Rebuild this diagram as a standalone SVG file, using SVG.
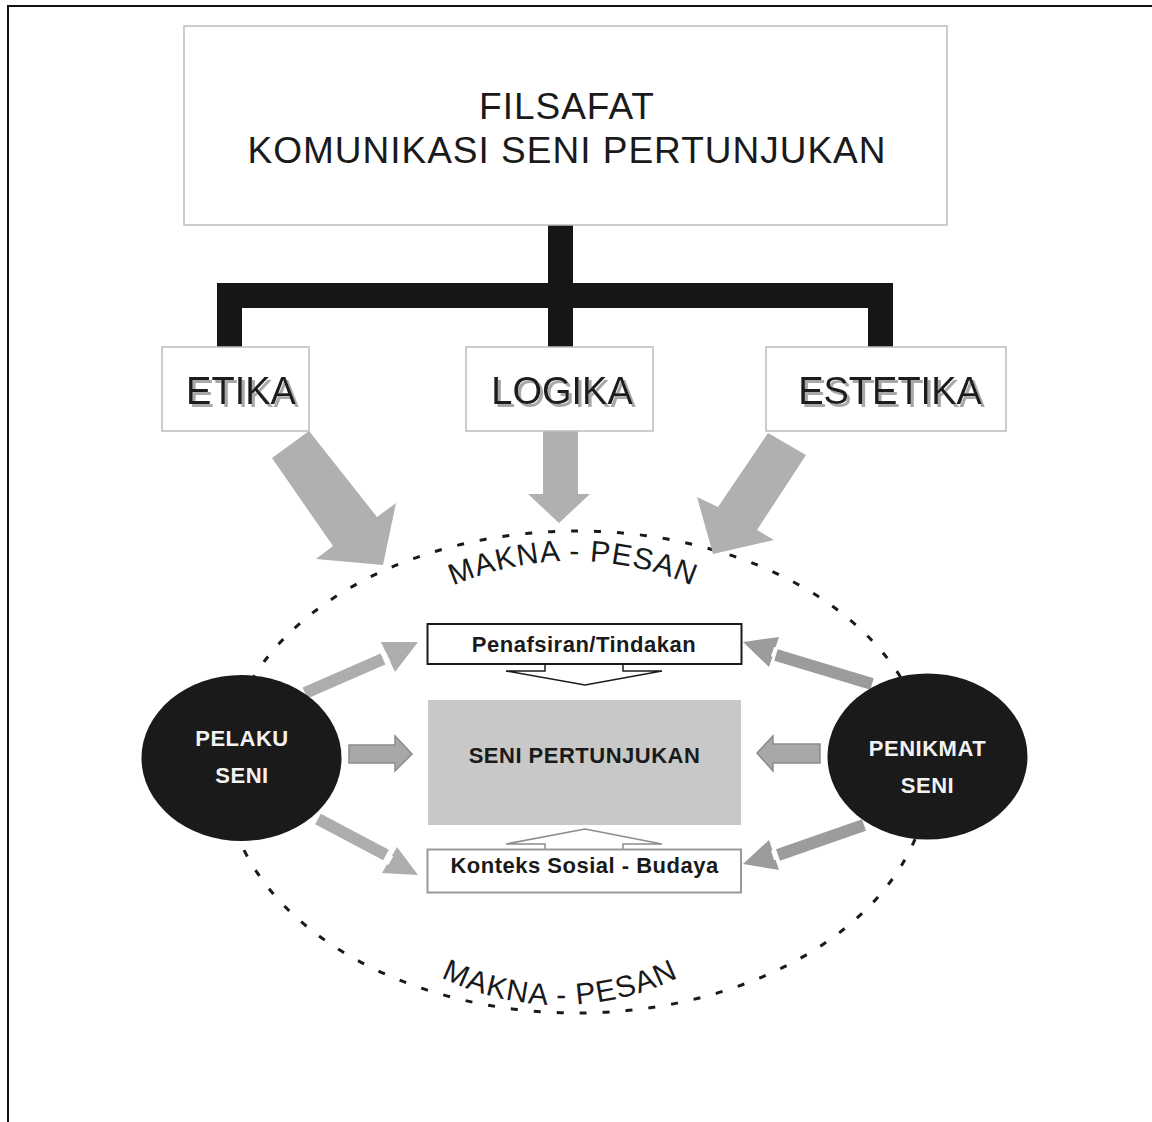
<svg xmlns="http://www.w3.org/2000/svg" width="1152" height="1122" viewBox="0 0 1152 1122">
<defs>
<style>
.frame{fill:none;stroke:#111;stroke-width:2}
.box{fill:#fff;stroke:#bdbdbd;stroke-width:1.5}
.title{font-family:"Liberation Sans",Arial,sans-serif;font-size:37px;fill:#1a1a1a;text-anchor:middle;letter-spacing:1px}
.big{font-family:"Liberation Sans",Arial,sans-serif;font-size:38px;fill:#1a1a1a;text-anchor:middle}
.lbl{font-family:"Liberation Sans",Arial,sans-serif;font-size:22px;font-weight:bold;fill:#1a1a1a;text-anchor:middle;letter-spacing:0.5px}
.wlbl{font-family:"Liberation Sans",Arial,sans-serif;font-size:22px;font-weight:bold;fill:#f2f2f2;text-anchor:middle;letter-spacing:0.5px}
.arc{font-family:"Liberation Sans",Arial,sans-serif;font-size:30px;fill:#1a1a1a;letter-spacing:1px}
.tree{fill:#161616}
.bigarrow{fill:#b0b0b0}
.shaftL{stroke:#adadad;stroke-width:12;fill:none}
.headL{fill:#adadad}
.shaftR{stroke:#9c9c9c;stroke-width:12;fill:none}
.headR{fill:#9c9c9c}
.notch{stroke:#fff;stroke-width:3;fill:none}
.midarrow{fill:#a8a8a8;stroke:#8c8c8c;stroke-width:1.5}
.dots{fill:none;stroke:#1a1a1a;stroke-width:3;stroke-dasharray:7 16}
.circle{fill:#1a1a1a}
</style>
<filter id="shadow" x="-10%" y="-10%" width="130%" height="140%">
<feDropShadow dx="3" dy="3" stdDeviation="0.6" flood-color="#a8a8a8" flood-opacity="1"/>
</filter>
<path id="arcTop" d="M 399.8,615.6 A 302 302 0 0 1 746.2,615.6"/>
<path id="arcBottom" d="M 339.7,890.3 A 269 269 0 0 0 780.3,890.3"/>
</defs>
<rect width="1152" height="1122" fill="#fff"/>
<path class="frame" d="M 8,1122 L 8,6 L 1152,6"/>

<g id="makna-pesan">
<ellipse class="dots" cx="577" cy="772" rx="352" ry="241"/>
<text class="arc"><textPath href="#arcTop" startOffset="50%" text-anchor="middle">MAKNA - PESAN</textPath></text>
<text class="arc"><textPath href="#arcBottom" startOffset="50%" text-anchor="middle">MAKNA - PESAN</textPath></text>
</g>

<g id="connectors">
<path class="tree" d="M 548,225 L 573,225 L 573,283 L 893,283 L 893,347 L 868,347 L 868,308 L 573,308 L 573,347 L 548,347 L 548,308 L 242,308 L 242,347 L 217,347 L 217,283 L 548,283 Z"/>
<polygon class="bigarrow" points="309,431 377,517 396,503 383,565 316,559 333,546 272,458"/>
<polygon class="bigarrow" points="543,431 578,431 578,494 590,494 559,523 528,494 543,494"/>
<polygon class="bigarrow" points="768,433 718,507 697,497 713,554 774,540 757,530 806,455"/>
<polygon fill="#fff" stroke="#1a1a1a" stroke-width="1.5" points="545,664 545,671 506,671 585,685 662,671 623,671 623,664"/>
<polygon fill="#fff" stroke="#8c8c8c" stroke-width="1.5" points="545,850 545,844 506,844 585,829 662,844 623,844 623,850"/>
<polygon class="midarrow" points="349,745 395,745 395,736 412,754 395,771 395,763 349,763"/>
<polygon class="midarrow" points="820,744 773,744 773,736 757,753 773,771 773,763 820,763"/>
<line class="shaftL" x1="305" y1="693" x2="383" y2="659"/>
<polygon class="headL" points="381,642 418,642 395,672"/>
<line class="notch" x1="384.9" y1="653.5" x2="389.1" y2="662.5"/>
<line class="shaftL" x1="318" y1="819" x2="386" y2="855"/>
<polygon class="headL" points="397,847 418,875 382,873"/>
<line class="notch" x1="392" y1="855.7" x2="387" y2="864.3"/>
<line class="shaftR" x1="872" y1="684" x2="776" y2="655"/>
<polygon class="headR" points="779,637 743,642 769,667"/>
<line class="notch" x1="775.6" y1="647.3" x2="772.4" y2="656.7"/>
<line class="shaftR" x1="864" y1="825" x2="778" y2="855"/>
<polygon class="headR" points="769,840 743,864 779,870"/>
<line class="notch" x1="772.4" y1="850.3" x2="775.6" y2="859.7"/>
</g>

<g id="filsafat">
<rect class="box" x="184" y="26" width="763" height="199"/>
<text class="title" x="567" y="119">FILSAFAT</text>
<text class="title" x="567" y="163">KOMUNIKASI SENI PERTUNJUKAN</text>
</g>
<g id="etika">
<rect class="box" x="162" y="347" width="147" height="84"/>
<text class="big" x="241" y="404" filter="url(#shadow)">ETIKA</text>
</g>
<g id="logika">
<rect class="box" x="466" y="347" width="187" height="84"/>
<text class="big" x="562" y="404" filter="url(#shadow)">LOGIKA</text>
</g>
<g id="estetika">
<rect class="box" x="766" y="347" width="240" height="84"/>
<text class="big" x="890" y="404" filter="url(#shadow)">ESTETIKA</text>
</g>
<g id="penafsiran">
<rect x="427.5" y="624" width="314" height="40" fill="#fff" stroke="#1a1a1a" stroke-width="2"/>
<text class="lbl" x="584" y="652">Penafsiran/Tindakan</text>
</g>
<g id="seni-pertunjukan">
<rect x="428" y="700" width="313" height="125" fill="#c8c8c8"/>
<text class="lbl" x="584.5" y="763">SENI PERTUNJUKAN</text>
</g>
<g id="konteks">
<rect x="427.5" y="849.5" width="313.5" height="43" fill="#fff" stroke="#999" stroke-width="2"/>
<text class="lbl" x="584.5" y="873">Konteks Sosial - Budaya</text>
</g>
<g id="pelaku">
<ellipse class="circle" cx="241.5" cy="758" rx="100" ry="83"/>
<text class="wlbl" x="242" y="746">PELAKU</text>
<text class="wlbl" x="242" y="783">SENI</text>
</g>
<g id="penikmat">
<ellipse class="circle" cx="927.5" cy="756.5" rx="100" ry="83"/>
<text class="wlbl" x="927.5" y="756">PENIKMAT</text>
<text class="wlbl" x="927.5" y="793">SENI</text>
</g>
</svg>
